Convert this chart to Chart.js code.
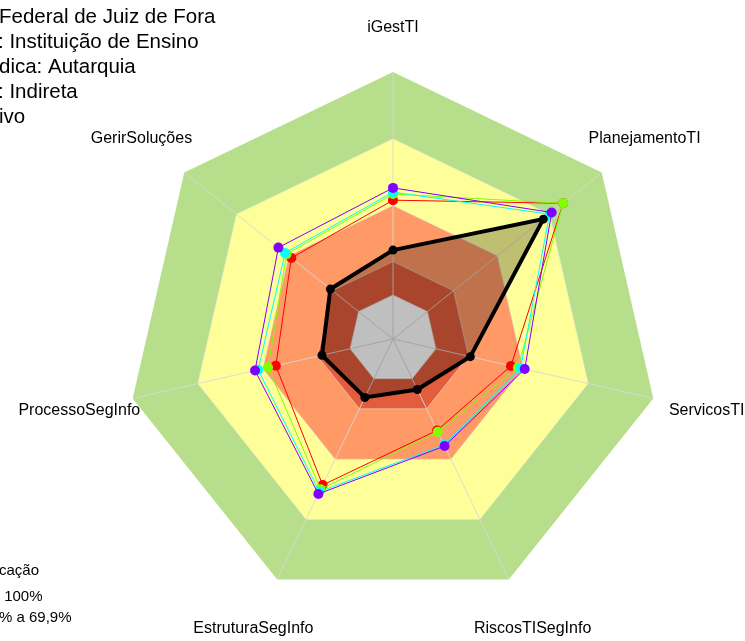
<!DOCTYPE html>
<html>
<head>
<meta charset="utf-8">
<script src="https://cdn.jsdelivr.net/npm/chart.js@4/dist/chart.umd.min.js"></script>
<style>
  html, body { margin: 0; padding: 0; background: #ffffff; }
  #wrap { width: 745px; height: 641px; position: relative; }
</style>
</head>
<body>
<div id="wrap"><canvas id="c" width="745" height="641"></canvas></div>
<script>
// ---- data ----
const categories = ['iGestTI', 'PlanejamentoTI', 'ServicosTI', 'RiscosTISegInfo', 'EstruturaSegInfo', 'ProcessoSegInfo', 'GerirSoluções'];
const orgValues    = [0.333, 0.72, 0.297, 0.21, 0.243, 0.273, 0.30];
const serieVermelha = [0.52, 0.815, 0.453, 0.38, 0.607, 0.45, 0.487];
const serieVerde    = [0.543, 0.815, 0.48, 0.386, 0.625, 0.48, 0.51];
const serieCiano    = [0.55, 0.75, 0.49, 0.44, 0.635, 0.518, 0.517];
const serieRoxa     = [0.566, 0.76, 0.506, 0.445, 0.644, 0.53, 0.549];
const faixas = [0, 0.165, 0.29, 0.50, 0.75, 1.0];        // classification band limits
const faixaCores = ['#ffffff', '#e35d3c', '#ff9966', '#ffff99', '#b7df8b'];
const textoTopo = ['Federal de Juiz de Fora', ': Instituição de Ensino', 'dica: Autarquia', ': Indireta', 'ivo'];
const textoLegenda = ['cação', ' 100%', '% a 69,9%'];

const FONT = '"Liberation Sans", Arial, sans-serif';

const bandsPlugin = {
  id: 'bands',
  beforeDraw(chart) {
    const s = chart.scales.r;
    const ctx = chart.ctx;
    ctx.save();
    for (let b = faixas.length - 1; b >= 1; b--) {
      ctx.beginPath();
      for (let i = 0; i < categories.length; i++) {
        const p = s.getPointPositionForValue(i, faixas[b]);
        if (i === 0) ctx.moveTo(p.x, p.y); else ctx.lineTo(p.x, p.y);
      }
      ctx.closePath();
      ctx.fillStyle = faixaCores[b - 1];
      ctx.fill();
    }
    ctx.restore();
  },
  afterDraw(chart) {
    const s = chart.scales.r;
    const ctx = chart.ctx;
    ctx.save();
    ctx.fillStyle = '#000000';
    ctx.font = '16px ' + FONT;
    ctx.textAlign = 'center';
    ctx.textBaseline = 'middle';
    const factors = [1.168, 1.205, 1.205, 1.205, 1.205, 1.205, 1.205];
    categories.forEach((lab, i) => {
      const p = s.getPointPosition(i, s.drawingArea * factors[i]);
      ctx.fillText(lab, p.x, p.y);
    });
    ctx.textAlign = 'left';
    ctx.font = '20.5px ' + FONT;
    const topX = [-1, -2, -1, -2, -1];
    textoTopo.forEach((t, i) => ctx.fillText(t, topX[i], 17 + i * 25));
    ctx.font = '15px ' + FONT;
    const legY = [571, 597, 618];
    const legX = [-1, 0, -1];
    textoLegenda.forEach((t, i) => ctx.fillText(t, legX[i], legY[i]));
    ctx.restore();
  }
};

function serie(label, data, color, order) {
  return {
    label, data, order,
    borderColor: color, backgroundColor: color,
    borderWidth: 1, fill: false,
    pointRadius: 5, pointBackgroundColor: color, pointBorderColor: color, pointBorderWidth: 0
  };
}

new Chart(document.getElementById('c'), {
  type: 'radar',
  data: {
    labels: categories,
    datasets: [
      {
        label: 'Organização', data: orgValues, order: 0,
        borderColor: '#000000', backgroundColor: 'rgba(0,0,0,0.25)',
        borderWidth: 4, fill: 'origin',
        pointRadius: 4.5, pointBackgroundColor: '#000000', pointBorderColor: '#000000', pointBorderWidth: 0
      },
      serie('Série 4', serieRoxa, '#8000ff', 1),
      serie('Série 3', serieCiano, '#00ffff', 2),
      serie('Série 2', serieVerde, '#80ff00', 3),
      serie('Série 1', serieVermelha, '#ff0000', 4)
    ]
  },
  options: {
    responsive: false,
    animation: false,
    layout: { padding: { top: 72, bottom: 35, left: 126, right: 85 } },
    plugins: { legend: { display: false }, tooltip: { enabled: false }, title: { display: false } },
    elements: { line: { tension: 0 } },
    scales: {
      r: {
        min: 0, max: 1,
        afterBuildTicks(scale) { scale.ticks = faixas.map(v => ({ value: v })); },
        ticks: { display: false },
        pointLabels: { display: false },
        angleLines: { color: 'rgba(215,215,215,0.9)', lineWidth: 1 },
        grid: {
          color: (c) => (c.tick && c.tick.value >= 1) ? 'rgba(0,0,0,0)' : 'rgba(225,225,225,0.55)',
          lineWidth: 1
        }
      }
    }
  },
  plugins: [bandsPlugin]
});
</script>
</body>
</html>
